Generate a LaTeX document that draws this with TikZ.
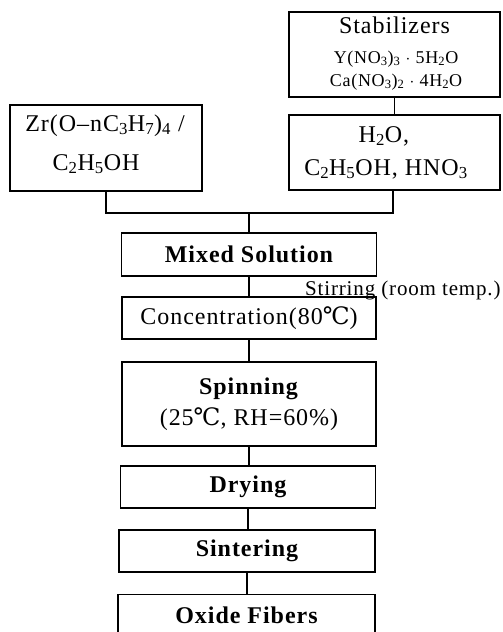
\documentclass[tikz,border=0pt]{standalone}
\usepackage{fontspec}
\setmainfont[LetterSpace=4]{Liberation Serif}
\newfontfamily\degfont{DejaVu Serif}
\newcommand\sbs[1]{\textsubscript{#1}}
\newcommand\degC{{\degfont ℃}}
\tikzset{
  box/.style={draw, line width=1.2pt, rectangle, inner sep=0pt, align=center},
  big/.style={font=\fontsize{24}{29}\selectfont},
  bigb/.style={font=\fontsize{24}{29}\selectfont\bfseries},
  small/.style={font=\fontsize{18}{23}\selectfont},
  conn/.style={line width=1.2pt},
}
\begin{document}
\begin{tikzpicture}[x=1pt,y=-1pt]
\useasboundingbox (0,0) rectangle (503,632);
\clip (0,0) rectangle (503,632);
% top boxes
\node[box, minimum width=211pt, minimum height=85pt] (stab) at (394.5,54.5) {};
\node[big, anchor=base] at (394.5,33) {Stabilizers};
\node[small, anchor=base] at (396,63) {Y(NO\sbs{3})\sbs{3} $\cdot$ 5H\sbs{2}O};
\node[small, anchor=base] at (396,86) {Ca(NO\sbs{3})\sbs{2} $\cdot$ 4H\sbs{2}O};
\node[box, minimum width=211pt, minimum height=75pt] (sol) at (394.5,152.5) {};
\node[big, anchor=base] at (384,142) {H\sbs{2}O,};
\node[big, anchor=base] at (386,175) {C\sbs{2}H\sbs{5}OH, HNO\sbs{3}};
\node[box, minimum width=192pt, minimum height=86pt] (zr) at (106,148) {};
\node[big, anchor=base] at (105,131) {Zr(O–nC\sbs{3}H\sbs{7})\sbs{4} /};
\node[big, anchor=base] at (96,170) {C\sbs{2}H\sbs{5}OH};
% chain
\node[box, bigb, minimum width=255pt, minimum height=43pt] (mix) at (249,254.5) {Mixed Solution};
\node[box, big, minimum width=254pt, minimum height=42pt] (conc) at (249,318) {Concentration(80\degC)};
\node[box, big, minimum width=254pt, minimum height=84pt] (spin) at (249,404) {\textbf{Spinning}\\[2pt](25\degC, RH=60\%)};
\node[box, bigb, minimum width=255pt, minimum height=42pt] (dry) at (248,487) {Drying};
\node[box, bigb, minimum width=256pt, minimum height=42pt] (sint) at (247,551) {Sintering};
\node[box, bigb, minimum width=257pt, minimum height=42pt, anchor=north] (oxide) at (246.5,594) {Oxide Fibers};
\node[font=\fontsize{21}{25}\selectfont, anchor=base west, inner sep=0pt] (stir) at (305,295) {Stirring (room temp.)};
% connectors
\coordinate (join) at (249,213);
\draw[conn] (stab.south) -- (sol.north);
\draw[conn] (zr.south) |- (join);
\draw[conn] (sol.south -| 393,0) |- (join);
\draw[conn] (join) -- (mix.north);
\draw[conn] (mix.south) -- (conc.north);
\draw[conn] (conc.south) -- (spin.north);
\draw[conn] (spin.south) -- (spin.south |- dry.north);
\draw[conn] (dry.south) -- (dry.south |- sint.north);
\draw[conn] (sint.south) -- (sint.south |- oxide.north);
\end{tikzpicture}
\end{document}
